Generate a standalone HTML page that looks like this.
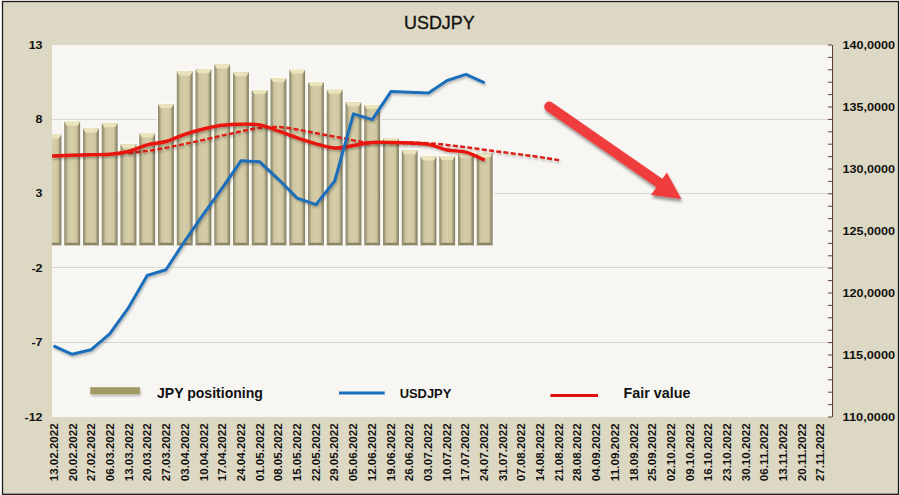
<!DOCTYPE html>
<html><head><meta charset="utf-8"><style>
html,body{margin:0;padding:0;background:#fff;width:900px;height:495px;overflow:hidden}
svg{display:block}
text{font-family:"Liberation Sans",sans-serif}
</style></head><body>
<svg width="900" height="495" viewBox="0 0 900 495">
<defs>
<linearGradient id="bg" x1="0" x2="1" y1="0" y2="0">
<stop offset="0" stop-color="#8e896b"/>
<stop offset="0.13" stop-color="#aaa385"/>
<stop offset="0.22" stop-color="#cdc5a0"/>
<stop offset="0.5" stop-color="#d6cea8"/>
<stop offset="0.78" stop-color="#cec69f"/>
<stop offset="0.87" stop-color="#a49e80"/>
<stop offset="1" stop-color="#7f7a60"/>
</linearGradient>
<clipPath id="pc"><rect x="52" y="45" width="780" height="372"/></clipPath>
<filter id="sh" x="-20%" y="-20%" width="140%" height="140%"><feGaussianBlur in="SourceAlpha" stdDeviation="1.8"/><feOffset dx="1" dy="2.5" result="b"/><feFlood flood-color="#000" flood-opacity="0.4"/><feComposite in2="b" operator="in"/><feMerge><feMergeNode/><feMergeNode in="SourceGraphic"/></feMerge></filter>
<filter id="ls" x="-10%" y="-50%" width="120%" height="200%"><feGaussianBlur in="SourceAlpha" stdDeviation="1"/><feOffset dx="1" dy="1.5" result="b"/><feFlood flood-color="#000" flood-opacity="0.25"/><feComposite in2="b" operator="in"/><feMerge><feMergeNode/><feMergeNode in="SourceGraphic"/></feMerge></filter>
</defs>
<rect x="0" y="0" width="900" height="495" fill="#ffffff"/>
<rect x="2.5" y="1.5" width="896" height="492.8" fill="#ddd8c3" stroke="#1a1a1a" stroke-width="1.3"/>
<rect x="52" y="45" width="780" height="372" fill="#f7f6f2"/>
<line x1="52" x2="832" y1="119.5" y2="119.5" stroke="#d9d7cf" stroke-width="1"/>
<line x1="52" x2="832" y1="193.5" y2="193.5" stroke="#d9d7cf" stroke-width="1"/>
<line x1="52" x2="832" y1="267.5" y2="267.5" stroke="#d9d7cf" stroke-width="1"/>
<line x1="52" x2="832" y1="342.5" y2="342.5" stroke="#d9d7cf" stroke-width="1"/>
<g clip-path="url(#pc)">
<rect x="44.50" y="133.60" width="17.90" height="112.20" fill="#fefdf6"/>
<rect x="45.50" y="134.60" width="15.90" height="110.70" fill="url(#bg)"/>
<polygon points="45.50,134.60 61.40,134.60 58.90,138.60 48.00,138.60" fill="#ebe4bb"/>
<polygon points="45.50,245.30 61.40,245.30 58.90,242.80 48.00,242.80" fill="#8a8567"/>
<rect x="63.25" y="120.70" width="17.90" height="125.10" fill="#fefdf6"/>
<rect x="64.25" y="121.70" width="15.90" height="123.60" fill="url(#bg)"/>
<polygon points="64.25,121.70 80.15,121.70 77.65,125.70 66.75,125.70" fill="#ebe4bb"/>
<polygon points="64.25,245.30 80.15,245.30 77.65,242.80 66.75,242.80" fill="#8a8567"/>
<rect x="82.00" y="127.60" width="17.90" height="118.20" fill="#fefdf6"/>
<rect x="83.00" y="128.60" width="15.90" height="116.70" fill="url(#bg)"/>
<polygon points="83.00,128.60 98.90,128.60 96.40,132.60 85.50,132.60" fill="#ebe4bb"/>
<polygon points="83.00,245.30 98.90,245.30 96.40,242.80 85.50,242.80" fill="#8a8567"/>
<rect x="100.75" y="122.20" width="17.90" height="123.60" fill="#fefdf6"/>
<rect x="101.75" y="123.20" width="15.90" height="122.10" fill="url(#bg)"/>
<polygon points="101.75,123.20 117.65,123.20 115.15,127.20 104.25,127.20" fill="#ebe4bb"/>
<polygon points="101.75,245.30 117.65,245.30 115.15,242.80 104.25,242.80" fill="#8a8567"/>
<rect x="119.50" y="143.20" width="17.90" height="102.60" fill="#fefdf6"/>
<rect x="120.50" y="144.20" width="15.90" height="101.10" fill="url(#bg)"/>
<polygon points="120.50,144.20 136.40,144.20 133.90,148.20 123.00,148.20" fill="#ebe4bb"/>
<polygon points="120.50,245.30 136.40,245.30 133.90,242.80 123.00,242.80" fill="#8a8567"/>
<rect x="138.25" y="132.60" width="17.90" height="113.20" fill="#fefdf6"/>
<rect x="139.25" y="133.60" width="15.90" height="111.70" fill="url(#bg)"/>
<polygon points="139.25,133.60 155.15,133.60 152.65,137.60 141.75,137.60" fill="#ebe4bb"/>
<polygon points="139.25,245.30 155.15,245.30 152.65,242.80 141.75,242.80" fill="#8a8567"/>
<rect x="157.00" y="103.10" width="17.90" height="142.70" fill="#fefdf6"/>
<rect x="158.00" y="104.10" width="15.90" height="141.20" fill="url(#bg)"/>
<polygon points="158.00,104.10 173.90,104.10 171.40,108.10 160.50,108.10" fill="#ebe4bb"/>
<polygon points="158.00,245.30 173.90,245.30 171.40,242.80 160.50,242.80" fill="#8a8567"/>
<rect x="175.75" y="70.40" width="17.90" height="175.40" fill="#fefdf6"/>
<rect x="176.75" y="71.40" width="15.90" height="173.90" fill="url(#bg)"/>
<polygon points="176.75,71.40 192.65,71.40 190.15,75.40 179.25,75.40" fill="#ebe4bb"/>
<polygon points="176.75,245.30 192.65,245.30 190.15,242.80 179.25,242.80" fill="#8a8567"/>
<rect x="194.50" y="68.30" width="17.90" height="177.50" fill="#fefdf6"/>
<rect x="195.50" y="69.30" width="15.90" height="176.00" fill="url(#bg)"/>
<polygon points="195.50,69.30 211.40,69.30 208.90,73.30 198.00,73.30" fill="#ebe4bb"/>
<polygon points="195.50,245.30 211.40,245.30 208.90,242.80 198.00,242.80" fill="#8a8567"/>
<rect x="213.25" y="63.60" width="17.90" height="182.20" fill="#fefdf6"/>
<rect x="214.25" y="64.60" width="15.90" height="180.70" fill="url(#bg)"/>
<polygon points="214.25,64.60 230.15,64.60 227.65,68.60 216.75,68.60" fill="#ebe4bb"/>
<polygon points="214.25,245.30 230.15,245.30 227.65,242.80 216.75,242.80" fill="#8a8567"/>
<rect x="232.00" y="71.30" width="17.90" height="174.50" fill="#fefdf6"/>
<rect x="233.00" y="72.30" width="15.90" height="173.00" fill="url(#bg)"/>
<polygon points="233.00,72.30 248.90,72.30 246.40,76.30 235.50,76.30" fill="#ebe4bb"/>
<polygon points="233.00,245.30 248.90,245.30 246.40,242.80 235.50,242.80" fill="#8a8567"/>
<rect x="250.75" y="89.00" width="17.90" height="156.80" fill="#fefdf6"/>
<rect x="251.75" y="90.00" width="15.90" height="155.30" fill="url(#bg)"/>
<polygon points="251.75,90.00 267.65,90.00 265.15,94.00 254.25,94.00" fill="#ebe4bb"/>
<polygon points="251.75,245.30 267.65,245.30 265.15,242.80 254.25,242.80" fill="#8a8567"/>
<rect x="269.50" y="77.10" width="17.90" height="168.70" fill="#fefdf6"/>
<rect x="270.50" y="78.10" width="15.90" height="167.20" fill="url(#bg)"/>
<polygon points="270.50,78.10 286.40,78.10 283.90,82.10 273.00,82.10" fill="#ebe4bb"/>
<polygon points="270.50,245.30 286.40,245.30 283.90,242.80 273.00,242.80" fill="#8a8567"/>
<rect x="288.25" y="68.80" width="17.90" height="177.00" fill="#fefdf6"/>
<rect x="289.25" y="69.80" width="15.90" height="175.50" fill="url(#bg)"/>
<polygon points="289.25,69.80 305.15,69.80 302.65,73.80 291.75,73.80" fill="#ebe4bb"/>
<polygon points="289.25,245.30 305.15,245.30 302.65,242.80 291.75,242.80" fill="#8a8567"/>
<rect x="307.00" y="81.00" width="17.90" height="164.80" fill="#fefdf6"/>
<rect x="308.00" y="82.00" width="15.90" height="163.30" fill="url(#bg)"/>
<polygon points="308.00,82.00 323.90,82.00 321.40,86.00 310.50,86.00" fill="#ebe4bb"/>
<polygon points="308.00,245.30 323.90,245.30 321.40,242.80 310.50,242.80" fill="#8a8567"/>
<rect x="325.75" y="88.80" width="17.90" height="157.00" fill="#fefdf6"/>
<rect x="326.75" y="89.80" width="15.90" height="155.50" fill="url(#bg)"/>
<polygon points="326.75,89.80 342.65,89.80 340.15,93.80 329.25,93.80" fill="#ebe4bb"/>
<polygon points="326.75,245.30 342.65,245.30 340.15,242.80 329.25,242.80" fill="#8a8567"/>
<rect x="344.50" y="101.20" width="17.90" height="144.60" fill="#fefdf6"/>
<rect x="345.50" y="102.20" width="15.90" height="143.10" fill="url(#bg)"/>
<polygon points="345.50,102.20 361.40,102.20 358.90,106.20 348.00,106.20" fill="#ebe4bb"/>
<polygon points="345.50,245.30 361.40,245.30 358.90,242.80 348.00,242.80" fill="#8a8567"/>
<rect x="363.25" y="104.10" width="17.90" height="141.70" fill="#fefdf6"/>
<rect x="364.25" y="105.10" width="15.90" height="140.20" fill="url(#bg)"/>
<polygon points="364.25,105.10 380.15,105.10 377.65,109.10 366.75,109.10" fill="#ebe4bb"/>
<polygon points="364.25,245.30 380.15,245.30 377.65,242.80 366.75,242.80" fill="#8a8567"/>
<rect x="382.00" y="137.60" width="17.90" height="108.20" fill="#fefdf6"/>
<rect x="383.00" y="138.60" width="15.90" height="106.70" fill="url(#bg)"/>
<polygon points="383.00,138.60 398.90,138.60 396.40,142.60 385.50,142.60" fill="#ebe4bb"/>
<polygon points="383.00,245.30 398.90,245.30 396.40,242.80 385.50,242.80" fill="#8a8567"/>
<rect x="400.75" y="149.30" width="17.90" height="96.50" fill="#fefdf6"/>
<rect x="401.75" y="150.30" width="15.90" height="95.00" fill="url(#bg)"/>
<polygon points="401.75,150.30 417.65,150.30 415.15,154.30 404.25,154.30" fill="#ebe4bb"/>
<polygon points="401.75,245.30 417.65,245.30 415.15,242.80 404.25,242.80" fill="#8a8567"/>
<rect x="419.50" y="155.60" width="17.90" height="90.20" fill="#fefdf6"/>
<rect x="420.50" y="156.60" width="15.90" height="88.70" fill="url(#bg)"/>
<polygon points="420.50,156.60 436.40,156.60 433.90,160.60 423.00,160.60" fill="#ebe4bb"/>
<polygon points="420.50,245.30 436.40,245.30 433.90,242.80 423.00,242.80" fill="#8a8567"/>
<rect x="438.25" y="155.10" width="17.90" height="90.70" fill="#fefdf6"/>
<rect x="439.25" y="156.10" width="15.90" height="89.20" fill="url(#bg)"/>
<polygon points="439.25,156.10 455.15,156.10 452.65,160.10 441.75,160.10" fill="#ebe4bb"/>
<polygon points="439.25,245.30 455.15,245.30 452.65,242.80 441.75,242.80" fill="#8a8567"/>
<rect x="457.00" y="152.70" width="17.90" height="93.10" fill="#fefdf6"/>
<rect x="458.00" y="153.70" width="15.90" height="91.60" fill="url(#bg)"/>
<polygon points="458.00,153.70 473.90,153.70 471.40,157.70 460.50,157.70" fill="#ebe4bb"/>
<polygon points="458.00,245.30 473.90,245.30 471.40,242.80 460.50,242.80" fill="#8a8567"/>
<rect x="475.75" y="152.50" width="17.90" height="93.30" fill="#fefdf6"/>
<rect x="476.75" y="153.50" width="15.90" height="91.80" fill="url(#bg)"/>
<polygon points="476.75,153.50 492.65,153.50 490.15,157.50 479.25,157.50" fill="#ebe4bb"/>
<polygon points="476.75,245.30 492.65,245.30 490.15,242.80 479.25,242.80" fill="#8a8567"/>
</g>
<g clip-path="url(#pc)">
<path d="M128.40,153.20 C132.93,152.62 145.15,151.47 155.60,149.70 C166.05,147.93 179.25,145.12 191.10,142.60 C202.95,140.08 215.77,136.98 226.70,134.60 C237.63,132.22 248.37,129.58 256.70,128.30 C265.03,127.02 270.22,126.75 276.70,126.90 C283.18,127.05 288.75,128.10 295.60,129.20 C302.45,130.30 309.57,131.93 317.80,133.50 C326.03,135.07 337.80,137.23 345.00,138.60 C352.20,139.97 356.33,141.03 361.00,141.70 C365.67,142.37 366.50,142.45 373.00,142.60 C379.50,142.75 390.57,142.48 400.00,142.60 C409.43,142.72 419.05,142.58 429.60,143.30 C440.15,144.02 451.75,145.50 463.30,146.90 C474.85,148.30 487.05,150.13 498.90,151.70 C510.75,153.27 524.33,154.88 534.40,156.30 C544.47,157.72 555.15,159.55 559.30,160.20" fill="none" stroke="#dd1a12" stroke-width="2.4" stroke-dasharray="5,2.3" filter="url(#ls)"/>
<path d="M52.00,156.00 C52.24,156.00 50.08,156.12 53.45,156.00 C56.82,155.88 65.95,155.52 72.20,155.30 C78.45,155.08 84.70,154.87 90.95,154.70 C97.20,154.53 103.45,154.83 109.70,154.30 C115.95,153.77 122.20,153.08 128.45,151.50 C134.70,149.92 140.95,146.47 147.20,144.80 C153.45,143.13 159.70,143.25 165.95,141.50 C172.20,139.75 178.45,136.38 184.70,134.30 C190.95,132.22 197.20,130.50 203.45,129.00 C209.70,127.50 215.95,126.10 222.20,125.30 C228.45,124.50 234.70,124.28 240.95,124.20 C247.20,124.12 253.45,123.67 259.70,124.80 C265.95,125.93 272.20,128.83 278.45,131.00 C284.70,133.17 290.95,135.67 297.20,137.80 C303.45,139.93 309.70,142.10 315.95,143.80 C322.20,145.50 328.45,147.72 334.70,148.00 C340.95,148.28 347.20,146.42 353.45,145.50 C359.70,144.58 365.95,143.00 372.20,142.50 C378.45,142.00 384.70,142.42 390.95,142.50 C397.20,142.58 403.45,142.68 409.70,143.00 C415.95,143.32 422.20,143.23 428.45,144.40 C434.70,145.57 440.95,148.70 447.20,150.00 C453.45,151.30 459.70,150.50 465.95,152.20 C472.20,153.90 481.57,158.87 484.70,160.20" fill="none" stroke="#e8120c" stroke-width="3.4" stroke-linejoin="round" stroke-linecap="butt" filter="url(#ls)"/>
<path d="M53.45,345.90 L72.20,354.30 L90.95,349.80 L109.70,333.80 L128.45,307.80 L147.20,275.50 L165.95,269.80 L184.70,241.30 L203.45,214.10 L222.20,188.10 L240.95,160.80 L259.70,161.80 L278.45,179.30 L297.20,198.20 L315.95,204.60 L334.70,181.00 L353.45,113.90 L372.20,119.60 L390.95,91.60 L409.70,92.30 L428.45,93.00 L447.20,80.50 L465.95,74.30 L484.70,82.90" fill="none" stroke="#1a6eba" stroke-width="3" stroke-linejoin="round" stroke-linecap="butt" filter="url(#ls)"/>
</g>
<line x1="832.5" x2="832.5" y1="45" y2="417" stroke="#5e3c36" stroke-width="1"/>
<line x1="828.0" x2="832" y1="45.00" y2="45.00" stroke="#5e3c36" stroke-width="1"/>
<line x1="828.0" x2="832" y1="57.40" y2="57.40" stroke="#5e3c36" stroke-width="1"/>
<line x1="828.0" x2="832" y1="69.80" y2="69.80" stroke="#5e3c36" stroke-width="1"/>
<line x1="828.0" x2="832" y1="82.20" y2="82.20" stroke="#5e3c36" stroke-width="1"/>
<line x1="828.0" x2="832" y1="94.60" y2="94.60" stroke="#5e3c36" stroke-width="1"/>
<line x1="828.0" x2="832" y1="107.00" y2="107.00" stroke="#5e3c36" stroke-width="1"/>
<line x1="828.0" x2="832" y1="119.40" y2="119.40" stroke="#5e3c36" stroke-width="1"/>
<line x1="828.0" x2="832" y1="131.80" y2="131.80" stroke="#5e3c36" stroke-width="1"/>
<line x1="828.0" x2="832" y1="144.20" y2="144.20" stroke="#5e3c36" stroke-width="1"/>
<line x1="828.0" x2="832" y1="156.60" y2="156.60" stroke="#5e3c36" stroke-width="1"/>
<line x1="828.0" x2="832" y1="169.00" y2="169.00" stroke="#5e3c36" stroke-width="1"/>
<line x1="828.0" x2="832" y1="181.40" y2="181.40" stroke="#5e3c36" stroke-width="1"/>
<line x1="828.0" x2="832" y1="193.80" y2="193.80" stroke="#5e3c36" stroke-width="1"/>
<line x1="828.0" x2="832" y1="206.20" y2="206.20" stroke="#5e3c36" stroke-width="1"/>
<line x1="828.0" x2="832" y1="218.60" y2="218.60" stroke="#5e3c36" stroke-width="1"/>
<line x1="828.0" x2="832" y1="231.00" y2="231.00" stroke="#5e3c36" stroke-width="1"/>
<line x1="828.0" x2="832" y1="243.40" y2="243.40" stroke="#5e3c36" stroke-width="1"/>
<line x1="828.0" x2="832" y1="255.80" y2="255.80" stroke="#5e3c36" stroke-width="1"/>
<line x1="828.0" x2="832" y1="268.20" y2="268.20" stroke="#5e3c36" stroke-width="1"/>
<line x1="828.0" x2="832" y1="280.60" y2="280.60" stroke="#5e3c36" stroke-width="1"/>
<line x1="828.0" x2="832" y1="293.00" y2="293.00" stroke="#5e3c36" stroke-width="1"/>
<line x1="828.0" x2="832" y1="305.40" y2="305.40" stroke="#5e3c36" stroke-width="1"/>
<line x1="828.0" x2="832" y1="317.80" y2="317.80" stroke="#5e3c36" stroke-width="1"/>
<line x1="828.0" x2="832" y1="330.20" y2="330.20" stroke="#5e3c36" stroke-width="1"/>
<line x1="828.0" x2="832" y1="342.60" y2="342.60" stroke="#5e3c36" stroke-width="1"/>
<line x1="828.0" x2="832" y1="355.00" y2="355.00" stroke="#5e3c36" stroke-width="1"/>
<line x1="828.0" x2="832" y1="367.40" y2="367.40" stroke="#5e3c36" stroke-width="1"/>
<line x1="828.0" x2="832" y1="379.80" y2="379.80" stroke="#5e3c36" stroke-width="1"/>
<line x1="828.0" x2="832" y1="392.20" y2="392.20" stroke="#5e3c36" stroke-width="1"/>
<line x1="828.0" x2="832" y1="404.60" y2="404.60" stroke="#5e3c36" stroke-width="1"/>
<line x1="828.0" x2="832" y1="417.00" y2="417.00" stroke="#5e3c36" stroke-width="1"/>
<g filter="url(#sh)"><line x1="549.3" y1="106.6" x2="659" y2="182.8" stroke="#ef3e3e" stroke-width="10.2" stroke-linecap="round"/><polygon points="681.4,199 651,195 666.8,172.5" fill="#ef3e3e"/></g>
<text x="404" y="28.6" font-family="Liberation Sans" font-size="19" textLength="70.7" lengthAdjust="spacingAndGlyphs" fill="#111" stroke="#111" stroke-width="0.35">USDJPY</text>
<text x="42.5" y="48.7" text-anchor="end" font-family="Liberation Sans" font-weight="bold" font-size="10.4" fill="#111" transform="translate(42.5 0) scale(1.2 1) translate(-42.5 0)">13</text>
<text x="42.5" y="123.1" text-anchor="end" font-family="Liberation Sans" font-weight="bold" font-size="10.4" fill="#111" transform="translate(42.5 0) scale(1.2 1) translate(-42.5 0)">8</text>
<text x="42.5" y="197.5" text-anchor="end" font-family="Liberation Sans" font-weight="bold" font-size="10.4" fill="#111" transform="translate(42.5 0) scale(1.2 1) translate(-42.5 0)">3</text>
<text x="42.5" y="271.9" text-anchor="end" font-family="Liberation Sans" font-weight="bold" font-size="10.4" fill="#111" transform="translate(42.5 0) scale(1.2 1) translate(-42.5 0)">-2</text>
<text x="42.5" y="346.3" text-anchor="end" font-family="Liberation Sans" font-weight="bold" font-size="10.4" fill="#111" transform="translate(42.5 0) scale(1.2 1) translate(-42.5 0)">-7</text>
<text x="42.5" y="420.7" text-anchor="end" font-family="Liberation Sans" font-weight="bold" font-size="10.4" fill="#111" transform="translate(42.5 0) scale(1.2 1) translate(-42.5 0)">-12</text>
<text x="842.6" y="48.8" font-family="Liberation Sans" font-weight="bold" font-size="10.5" textLength="52.5" lengthAdjust="spacingAndGlyphs" fill="#111">140,0000</text>
<text x="842.6" y="110.8" font-family="Liberation Sans" font-weight="bold" font-size="10.5" textLength="52.5" lengthAdjust="spacingAndGlyphs" fill="#111">135,0000</text>
<text x="842.6" y="172.8" font-family="Liberation Sans" font-weight="bold" font-size="10.5" textLength="52.5" lengthAdjust="spacingAndGlyphs" fill="#111">130,0000</text>
<text x="842.6" y="234.8" font-family="Liberation Sans" font-weight="bold" font-size="10.5" textLength="52.5" lengthAdjust="spacingAndGlyphs" fill="#111">125,0000</text>
<text x="842.6" y="296.8" font-family="Liberation Sans" font-weight="bold" font-size="10.5" textLength="52.5" lengthAdjust="spacingAndGlyphs" fill="#111">120,0000</text>
<text x="842.6" y="358.8" font-family="Liberation Sans" font-weight="bold" font-size="10.5" textLength="52.5" lengthAdjust="spacingAndGlyphs" fill="#111">115,0000</text>
<text x="842.6" y="420.8" font-family="Liberation Sans" font-weight="bold" font-size="10.5" textLength="52.5" lengthAdjust="spacingAndGlyphs" fill="#111">110,0000</text>
<text transform="translate(54.30 481.2) rotate(-90)" x="0" y="3.7" font-family="Liberation Sans" font-weight="bold" font-size="10.4" textLength="57.8" lengthAdjust="spacingAndGlyphs" fill="#111">13.02.2022</text>
<text transform="translate(73.00 481.2) rotate(-90)" x="0" y="3.7" font-family="Liberation Sans" font-weight="bold" font-size="10.4" textLength="57.8" lengthAdjust="spacingAndGlyphs" fill="#111">20.02.2022</text>
<text transform="translate(91.69 481.2) rotate(-90)" x="0" y="3.7" font-family="Liberation Sans" font-weight="bold" font-size="10.4" textLength="57.8" lengthAdjust="spacingAndGlyphs" fill="#111">27.02.2022</text>
<text transform="translate(110.38 481.2) rotate(-90)" x="0" y="3.7" font-family="Liberation Sans" font-weight="bold" font-size="10.4" textLength="57.8" lengthAdjust="spacingAndGlyphs" fill="#111">06.03.2022</text>
<text transform="translate(129.08 481.2) rotate(-90)" x="0" y="3.7" font-family="Liberation Sans" font-weight="bold" font-size="10.4" textLength="57.8" lengthAdjust="spacingAndGlyphs" fill="#111">13.03.2022</text>
<text transform="translate(147.77 481.2) rotate(-90)" x="0" y="3.7" font-family="Liberation Sans" font-weight="bold" font-size="10.4" textLength="57.8" lengthAdjust="spacingAndGlyphs" fill="#111">20.03.2022</text>
<text transform="translate(166.47 481.2) rotate(-90)" x="0" y="3.7" font-family="Liberation Sans" font-weight="bold" font-size="10.4" textLength="57.8" lengthAdjust="spacingAndGlyphs" fill="#111">27.03.2022</text>
<text transform="translate(185.17 481.2) rotate(-90)" x="0" y="3.7" font-family="Liberation Sans" font-weight="bold" font-size="10.4" textLength="57.8" lengthAdjust="spacingAndGlyphs" fill="#111">03.04.2022</text>
<text transform="translate(203.86 481.2) rotate(-90)" x="0" y="3.7" font-family="Liberation Sans" font-weight="bold" font-size="10.4" textLength="57.8" lengthAdjust="spacingAndGlyphs" fill="#111">10.04.2022</text>
<text transform="translate(222.56 481.2) rotate(-90)" x="0" y="3.7" font-family="Liberation Sans" font-weight="bold" font-size="10.4" textLength="57.8" lengthAdjust="spacingAndGlyphs" fill="#111">17.04.2022</text>
<text transform="translate(241.25 481.2) rotate(-90)" x="0" y="3.7" font-family="Liberation Sans" font-weight="bold" font-size="10.4" textLength="57.8" lengthAdjust="spacingAndGlyphs" fill="#111">24.04.2022</text>
<text transform="translate(259.94 481.2) rotate(-90)" x="0" y="3.7" font-family="Liberation Sans" font-weight="bold" font-size="10.4" textLength="57.8" lengthAdjust="spacingAndGlyphs" fill="#111">01.05.2022</text>
<text transform="translate(278.64 481.2) rotate(-90)" x="0" y="3.7" font-family="Liberation Sans" font-weight="bold" font-size="10.4" textLength="57.8" lengthAdjust="spacingAndGlyphs" fill="#111">08.05.2022</text>
<text transform="translate(297.33 481.2) rotate(-90)" x="0" y="3.7" font-family="Liberation Sans" font-weight="bold" font-size="10.4" textLength="57.8" lengthAdjust="spacingAndGlyphs" fill="#111">15.05.2022</text>
<text transform="translate(316.03 481.2) rotate(-90)" x="0" y="3.7" font-family="Liberation Sans" font-weight="bold" font-size="10.4" textLength="57.8" lengthAdjust="spacingAndGlyphs" fill="#111">22.05.2022</text>
<text transform="translate(334.73 481.2) rotate(-90)" x="0" y="3.7" font-family="Liberation Sans" font-weight="bold" font-size="10.4" textLength="57.8" lengthAdjust="spacingAndGlyphs" fill="#111">29.05.2022</text>
<text transform="translate(353.42 481.2) rotate(-90)" x="0" y="3.7" font-family="Liberation Sans" font-weight="bold" font-size="10.4" textLength="57.8" lengthAdjust="spacingAndGlyphs" fill="#111">05.06.2022</text>
<text transform="translate(372.12 481.2) rotate(-90)" x="0" y="3.7" font-family="Liberation Sans" font-weight="bold" font-size="10.4" textLength="57.8" lengthAdjust="spacingAndGlyphs" fill="#111">12.06.2022</text>
<text transform="translate(390.81 481.2) rotate(-90)" x="0" y="3.7" font-family="Liberation Sans" font-weight="bold" font-size="10.4" textLength="57.8" lengthAdjust="spacingAndGlyphs" fill="#111">19.06.2022</text>
<text transform="translate(409.50 481.2) rotate(-90)" x="0" y="3.7" font-family="Liberation Sans" font-weight="bold" font-size="10.4" textLength="57.8" lengthAdjust="spacingAndGlyphs" fill="#111">26.06.2022</text>
<text transform="translate(428.20 481.2) rotate(-90)" x="0" y="3.7" font-family="Liberation Sans" font-weight="bold" font-size="10.4" textLength="57.8" lengthAdjust="spacingAndGlyphs" fill="#111">03.07.2022</text>
<text transform="translate(446.90 481.2) rotate(-90)" x="0" y="3.7" font-family="Liberation Sans" font-weight="bold" font-size="10.4" textLength="57.8" lengthAdjust="spacingAndGlyphs" fill="#111">10.07.2022</text>
<text transform="translate(465.59 481.2) rotate(-90)" x="0" y="3.7" font-family="Liberation Sans" font-weight="bold" font-size="10.4" textLength="57.8" lengthAdjust="spacingAndGlyphs" fill="#111">17.07.2022</text>
<text transform="translate(484.29 481.2) rotate(-90)" x="0" y="3.7" font-family="Liberation Sans" font-weight="bold" font-size="10.4" textLength="57.8" lengthAdjust="spacingAndGlyphs" fill="#111">24.07.2022</text>
<text transform="translate(502.98 481.2) rotate(-90)" x="0" y="3.7" font-family="Liberation Sans" font-weight="bold" font-size="10.4" textLength="57.8" lengthAdjust="spacingAndGlyphs" fill="#111">31.07.2022</text>
<text transform="translate(521.67 481.2) rotate(-90)" x="0" y="3.7" font-family="Liberation Sans" font-weight="bold" font-size="10.4" textLength="57.8" lengthAdjust="spacingAndGlyphs" fill="#111">07.08.2022</text>
<text transform="translate(540.37 481.2) rotate(-90)" x="0" y="3.7" font-family="Liberation Sans" font-weight="bold" font-size="10.4" textLength="57.8" lengthAdjust="spacingAndGlyphs" fill="#111">14.08.2022</text>
<text transform="translate(559.06 481.2) rotate(-90)" x="0" y="3.7" font-family="Liberation Sans" font-weight="bold" font-size="10.4" textLength="57.8" lengthAdjust="spacingAndGlyphs" fill="#111">21.08.2022</text>
<text transform="translate(577.76 481.2) rotate(-90)" x="0" y="3.7" font-family="Liberation Sans" font-weight="bold" font-size="10.4" textLength="57.8" lengthAdjust="spacingAndGlyphs" fill="#111">28.08.2022</text>
<text transform="translate(596.45 481.2) rotate(-90)" x="0" y="3.7" font-family="Liberation Sans" font-weight="bold" font-size="10.4" textLength="57.8" lengthAdjust="spacingAndGlyphs" fill="#111">04.09.2022</text>
<text transform="translate(615.15 481.2) rotate(-90)" x="0" y="3.7" font-family="Liberation Sans" font-weight="bold" font-size="10.4" textLength="57.8" lengthAdjust="spacingAndGlyphs" fill="#111">11.09.2022</text>
<text transform="translate(633.84 481.2) rotate(-90)" x="0" y="3.7" font-family="Liberation Sans" font-weight="bold" font-size="10.4" textLength="57.8" lengthAdjust="spacingAndGlyphs" fill="#111">18.09.2022</text>
<text transform="translate(652.54 481.2) rotate(-90)" x="0" y="3.7" font-family="Liberation Sans" font-weight="bold" font-size="10.4" textLength="57.8" lengthAdjust="spacingAndGlyphs" fill="#111">25.09.2022</text>
<text transform="translate(671.24 481.2) rotate(-90)" x="0" y="3.7" font-family="Liberation Sans" font-weight="bold" font-size="10.4" textLength="57.8" lengthAdjust="spacingAndGlyphs" fill="#111">02.10.2022</text>
<text transform="translate(689.93 481.2) rotate(-90)" x="0" y="3.7" font-family="Liberation Sans" font-weight="bold" font-size="10.4" textLength="57.8" lengthAdjust="spacingAndGlyphs" fill="#111">09.10.2022</text>
<text transform="translate(708.62 481.2) rotate(-90)" x="0" y="3.7" font-family="Liberation Sans" font-weight="bold" font-size="10.4" textLength="57.8" lengthAdjust="spacingAndGlyphs" fill="#111">16.10.2022</text>
<text transform="translate(727.32 481.2) rotate(-90)" x="0" y="3.7" font-family="Liberation Sans" font-weight="bold" font-size="10.4" textLength="57.8" lengthAdjust="spacingAndGlyphs" fill="#111">23.10.2022</text>
<text transform="translate(746.01 481.2) rotate(-90)" x="0" y="3.7" font-family="Liberation Sans" font-weight="bold" font-size="10.4" textLength="57.8" lengthAdjust="spacingAndGlyphs" fill="#111">30.10.2022</text>
<text transform="translate(764.71 481.2) rotate(-90)" x="0" y="3.7" font-family="Liberation Sans" font-weight="bold" font-size="10.4" textLength="57.8" lengthAdjust="spacingAndGlyphs" fill="#111">06.11.2022</text>
<text transform="translate(783.40 481.2) rotate(-90)" x="0" y="3.7" font-family="Liberation Sans" font-weight="bold" font-size="10.4" textLength="57.8" lengthAdjust="spacingAndGlyphs" fill="#111">13.11.2022</text>
<text transform="translate(802.10 481.2) rotate(-90)" x="0" y="3.7" font-family="Liberation Sans" font-weight="bold" font-size="10.4" textLength="57.8" lengthAdjust="spacingAndGlyphs" fill="#111">20.11.2022</text>
<text transform="translate(820.79 481.2) rotate(-90)" x="0" y="3.7" font-family="Liberation Sans" font-weight="bold" font-size="10.4" textLength="57.8" lengthAdjust="spacingAndGlyphs" fill="#111">27.11.2022</text>
<rect x="90.3" y="387.2" width="49.6" height="7" fill="#a29a64" filter="url(#ls)"/>
<text x="157" y="398" font-family="Liberation Sans" font-weight="bold" font-size="13.9" textLength="105.9" lengthAdjust="spacingAndGlyphs" fill="#111">JPY positioning</text>
<line x1="339" x2="384.7" y1="392.9" y2="392.9" stroke="#1a6eba" stroke-width="3"/>
<text x="399.7" y="397.5" font-family="Liberation Sans" font-weight="bold" font-size="13.6" textLength="51.6" lengthAdjust="spacingAndGlyphs" fill="#111">USDJPY</text>
<line x1="550.4" x2="598" y1="395.4" y2="395.4" stroke="#dd1111" stroke-width="3"/>
<text x="623.6" y="397.6" font-family="Liberation Sans" font-weight="bold" font-size="13.9" textLength="66.8" lengthAdjust="spacingAndGlyphs" fill="#111">Fair value</text>
</svg>
</body></html>
